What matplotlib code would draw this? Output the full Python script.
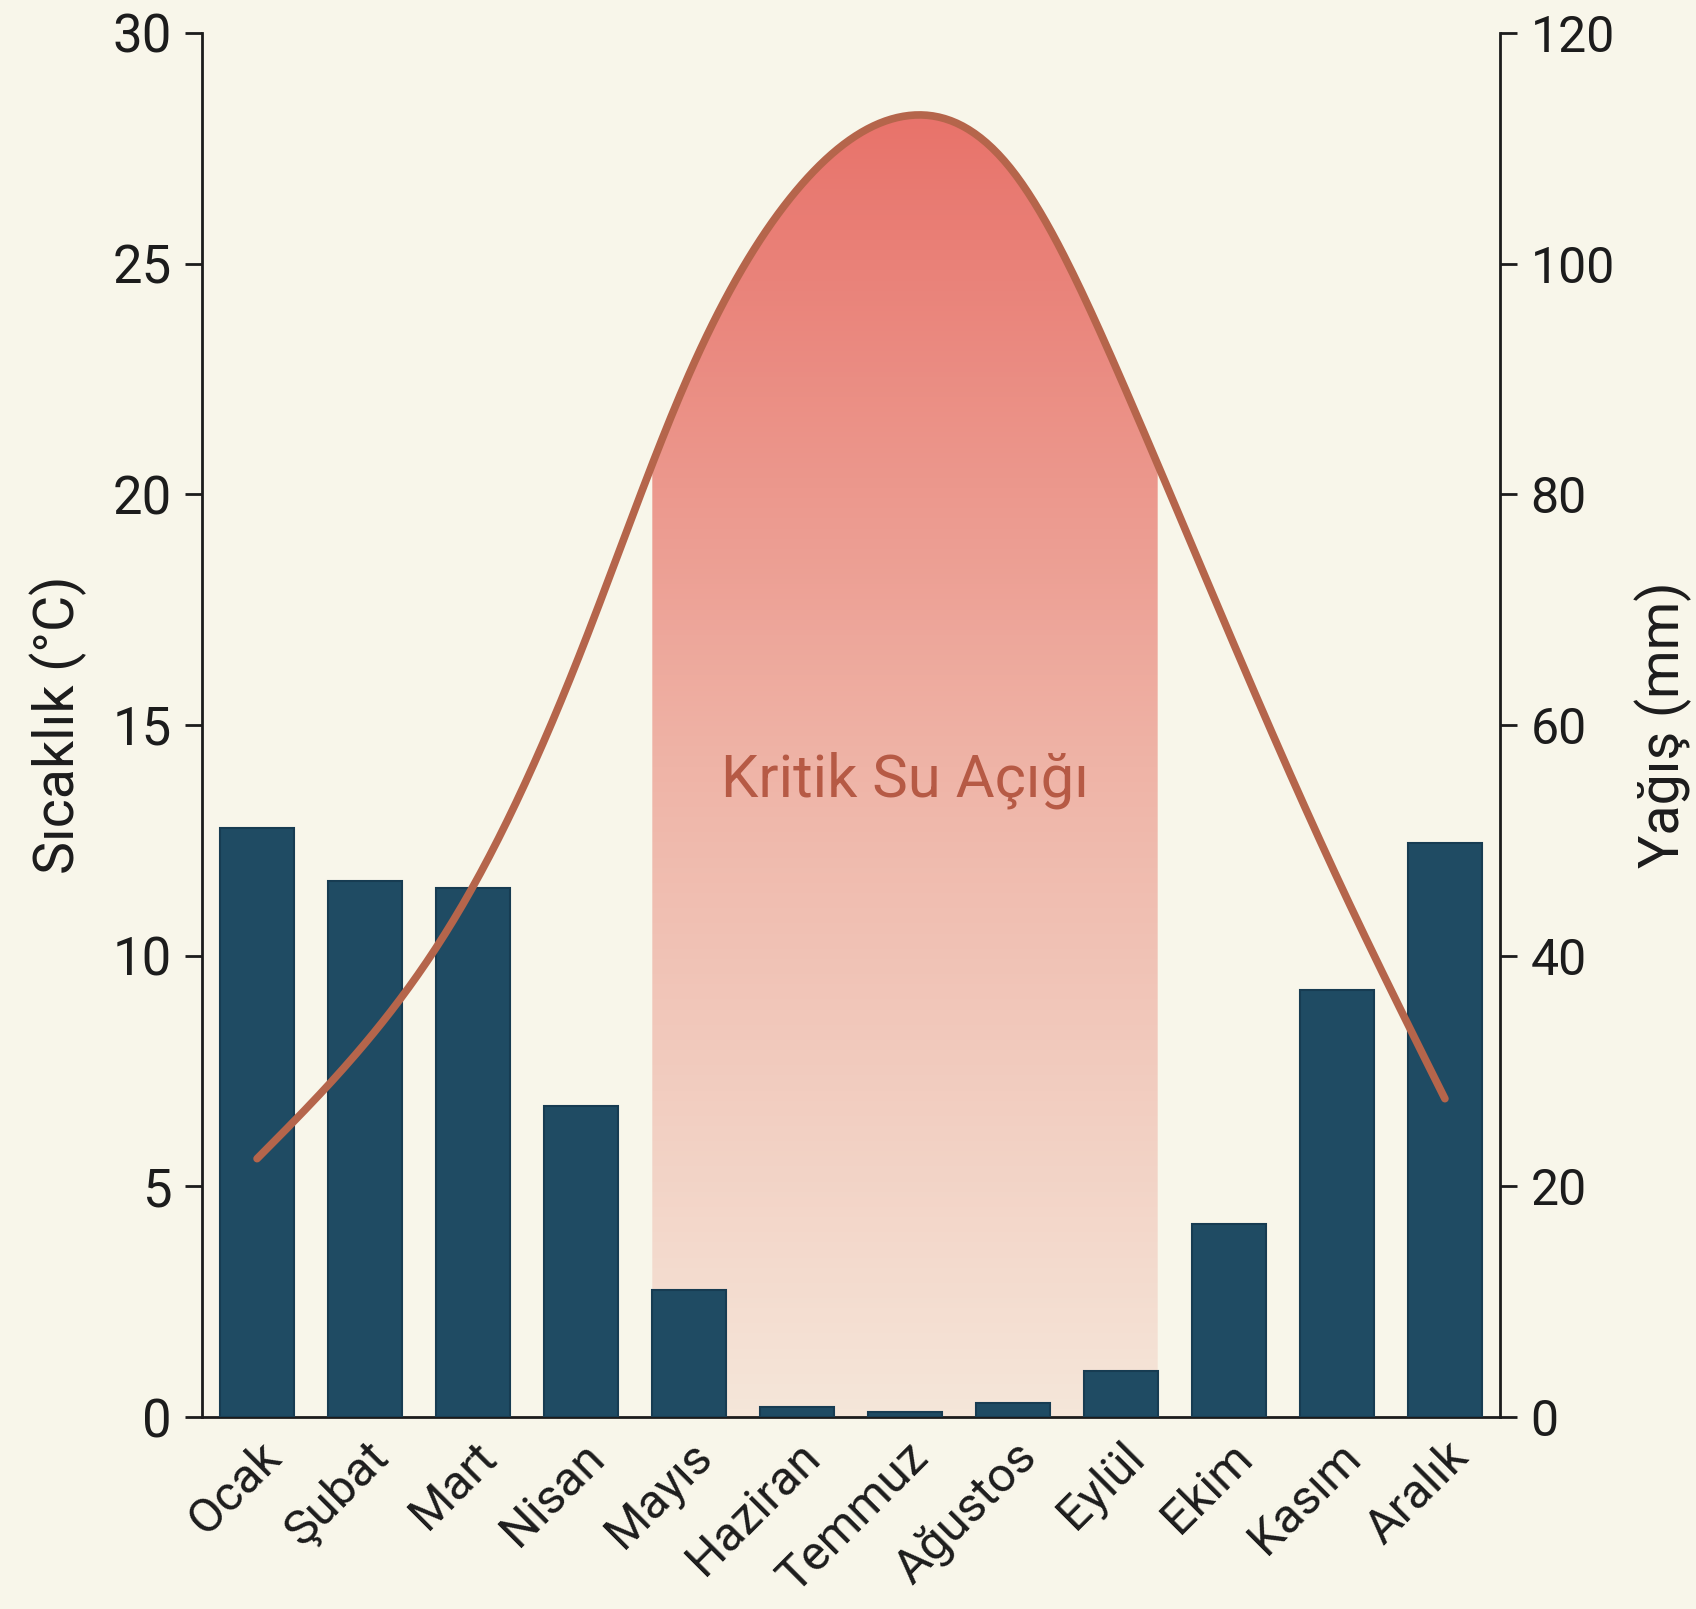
import matplotlib

matplotlib.use("Agg")
import matplotlib.pyplot as plt
import numpy as np
from matplotlib.colors import LinearSegmentedColormap
from matplotlib.path import Path
from matplotlib.patches import PathPatch

# data
months = ["Ocak", "Şubat", "Mart", "Nisan", "Mayıs", "Haziran",
          "Temmuz", "Ağustos", "Eylül", "Ekim", "Kasım", "Aralık"]
precip_mm = [51.1, 46.5, 45.9, 27.0, 11.0, 0.9, 0.4, 1.2, 4.0, 16.7, 37.0, 49.8]
temp_c = [5.6, 8.1, 11.5, 16.6, 22.6, 26.6, 28.2, 27.0, 22.5, 17.0, 11.7, 6.9]
deficit_months = ("Mayıs", "Eylül")
deficit_label = "Kritik Su Açığı"

BG = "#f8f6ea"
BAR = "#1f4b63"
BAR_EDGE = "#173c52"
LINE = "#b5654b"
TXT = "#1c1c1c"
FONT = ["Roboto", "DejaVu Sans"]

plt.rcParams["font.family"] = FONT


def natural_spline(x, y, n=400):
    # natural cubic spline through the monthly points, only for drawing the curve
    x = np.asarray(x, float)
    y = np.asarray(y, float)
    h = np.diff(x)
    k = len(x)
    A = np.zeros((k, k))
    r = np.zeros(k)
    A[0, 0] = A[-1, -1] = 1
    for i in range(1, k - 1):
        A[i, i - 1] = h[i - 1]
        A[i, i] = 2 * (h[i - 1] + h[i])
        A[i, i + 1] = h[i]
        r[i] = 6 * ((y[i + 1] - y[i]) / h[i] - (y[i] - y[i - 1]) / h[i - 1])
    M = np.linalg.solve(A, r)
    xs = np.linspace(x[0], x[-1], n)
    idx = np.clip(np.searchsorted(x, xs) - 1, 0, k - 2)
    x0, x1 = x[idx], x[idx + 1]
    hh = x1 - x0
    a = (x1 - xs) / hh
    b = (xs - x0) / hh
    ys = (a * y[idx] + b * y[idx + 1]
          + ((a ** 3 - a) * M[idx] + (b ** 3 - b) * M[idx + 1]) * hh ** 2 / 6)
    return xs, ys


x = np.arange(len(months))
bar_w = 0.68

fig = plt.figure(figsize=(16.96, 16.09), dpi=100, facecolor=BG)
rect = [202 / 1696, 1 - 1417 / 1609, 1298 / 1696, 1384 / 1609]

ax_t = fig.add_axes(rect)          # temperature: shaded deficit + left axis
ax_p = ax_t.twinx()                # precipitation bars + right axis
ax_l = ax_t.twinx()                # temperature line on top of bars
ax_t.set_facecolor(BG)

xs, ys = natural_spline(x, temp_c)

# gradient deficit area under the temperature curve
i0 = months.index(deficit_months[0]) - bar_w / 2
i1 = months.index(deficit_months[1]) + bar_w / 2
m = (xs >= i0) & (xs <= i1)
poly_x = np.concatenate([[i0, i0], xs[m], [i1, i1]])
poly_y = np.concatenate([[0, np.interp(i0, xs, ys)], ys[m], [np.interp(i1, xs, ys), 0]])
clip = PathPatch(Path(np.column_stack([poly_x, poly_y])), facecolor="none",
                 edgecolor="none", transform=ax_t.transData)
ax_t.add_patch(clip)
cmap = LinearSegmentedColormap.from_list("deficit", ["#f5e6d9", "#efb4a7", "#e8736b"])
grad = np.linspace(0, 1, 256).reshape(-1, 1)
img = ax_t.imshow(grad, cmap=cmap, origin="lower", aspect="auto",
                  extent=(i0, i1, 0, max(temp_c)), zorder=0, interpolation="bilinear")
img.set_clip_path(clip)

ax_t.text(6, 13.8, deficit_label, ha="center", va="center",
          fontsize=43, color="#b65a45", zorder=2)

ax_p.bar(x, precip_mm, width=bar_w, color=BAR, edgecolor=BAR_EDGE, linewidth=1.5, zorder=3)

ax_l.plot(xs, ys, color=LINE, lw=5.5, solid_capstyle="round", zorder=4)
ax_l.axis("off")

for a in (ax_t, ax_l):
    a.set_ylim(0, 30)
ax_p.set_ylim(0, 120)
for a in (ax_t, ax_p, ax_l):
    a.set_xlim(-0.51, len(months) - 0.49)

# axes styling
for a in (ax_t, ax_p):
    for s in a.spines.values():
        s.set_visible(False)
ax_t.spines["left"].set_visible(True)
ax_t.spines["bottom"].set_visible(True)
ax_p.spines["right"].set_visible(True)
for s in (ax_t.spines["left"], ax_t.spines["bottom"], ax_p.spines["right"]):
    s.set_linewidth(2.0)
    s.set_color(TXT)

ax_t.set_yticks(np.arange(0, 31, 5))
ax_p.set_yticks(np.arange(0, 121, 20))
ax_t.tick_params(axis="y", length=12, width=2, pad=10, labelsize=38, colors=TXT)
ax_p.tick_params(axis="y", length=12, width=2, pad=10, labelsize=36, colors=TXT)
ax_p.tick_params(axis="x", length=0, labelbottom=False)

ax_t.set_xticks(x)
ax_t.set_xticklabels(months, rotation=45, ha="right", va="top",
                     rotation_mode="anchor", fontsize=35, color=TXT)
ax_t.tick_params(axis="x", length=0, pad=12)

ax_t.set_ylabel("Sıcaklık (°C)", fontsize=40, color=TXT, labelpad=18)
ax_p.set_ylabel("Yağış (mm)", fontsize=40, color=TXT, rotation=90, labelpad=14)

fig.savefig("out.png", dpi=100, facecolor=BG)
